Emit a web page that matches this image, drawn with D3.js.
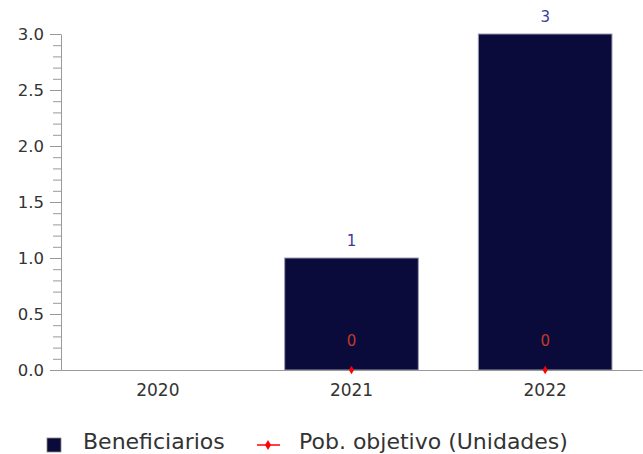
<!DOCTYPE html>
<html>
<head>
<meta charset="utf-8">
<script src="https://cdn.jsdelivr.net/npm/d3@7"></script>
<style>
  body { margin: 0; background: #fff; }
  text { font-family: "DejaVu Sans", sans-serif; }
</style>
</head>
<body>
<svg id="chart"></svg>
<script>
// chart values
const years = ["2020", "2021", "2022"];
const beneficiarios = [0, 1, 3];
const pobObjetivo = [null, 0, 0];
const yTicks = [0, 0.5, 1.0, 1.5, 2.0, 2.5, 3.0];
const legendLabels = ["Beneficiarios", "Pob. objetivo (Unidades)"];

const width = 643, height = 454;
const margin = {top: 34, right: 1, bottom: 84, left: 61};
const innerW = width - margin.left - margin.right;
const innerH = height - margin.top - margin.bottom;

const svg = d3.select("#chart").attr("width", width).attr("height", height);
const g = svg.append("g").attr("transform", `translate(${margin.left},${margin.top})`);

const x = d3.scaleBand().domain(years).range([0, innerW]).paddingInner(0.31).paddingOuter(0.155);
const y = d3.scaleLinear().domain([0, 3]).range([innerH, 0]);

// minor ticks
g.append("g")
    .call(d3.axisLeft(y).tickValues(d3.range(0, 3.01, 0.1)).tickSize(8).tickFormat(""))
    .call(a => a.select(".domain").remove())
    .selectAll("line").attr("stroke", "#999");

// y axis
const yAxis = g.append("g")
    .call(d3.axisLeft(y).tickValues(yTicks).tickSize(11).tickSizeOuter(0).tickFormat(d3.format(".1f")));
yAxis.select(".domain").attr("stroke", "#999");
yAxis.selectAll("line").attr("stroke", "#999");
yAxis.selectAll("text").attr("font-size", 16.5).attr("fill", "#333").attr("dx", "-3");

// bars
const barData = years.map((d, i) => ({year: d, v: beneficiarios[i]})).filter(d => d.v > 0);
g.selectAll("rect.bar")
    .data(barData)
    .enter().append("rect")
    .attr("class", "bar")
    .attr("x", d => x(d.year))
    .attr("y", d => y(d.v))
    .attr("width", x.bandwidth())
    .attr("height", d => innerH - y(d.v))
    .attr("fill", "#0b0b3b")
    .attr("stroke", "#9a9ab0")
    .attr("stroke-width", 1);

g.selectAll("text.vlab")
    .data(barData)
    .enter().append("text")
    .attr("class", "vlab")
    .attr("x", d => x(d.year) + x.bandwidth() / 2)
    .attr("y", d => y(d.v) - 12)
    .attr("text-anchor", "middle")
    .attr("font-size", 15)
    .attr("fill", "#3b3b9e")
    .text(d => d.v);

// x axis
const xAxis = g.append("g")
    .attr("transform", `translate(0,${innerH})`)
    .call(d3.axisBottom(x).tickSize(0).tickSizeOuter(0));
xAxis.select(".domain").attr("stroke", "#999");
xAxis.selectAll("text").attr("font-size", 17).attr("fill", "#333").attr("dy", "1.35em");

// red points
const pts = years.map((d, i) => ({year: d, v: pobObjetivo[i]})).filter(d => d.v !== null);
g.selectAll("path.pt")
    .data(pts)
    .enter().append("path")
    .attr("class", "pt")
    .attr("transform", d => `translate(${x(d.year) + x.bandwidth() / 2},${y(d.v)})`)
    .attr("d", d3.symbol(d3.symbolDiamond, 22))
    .attr("fill", "#ff0000");

g.selectAll("text.plab")
    .data(pts)
    .enter().append("text")
    .attr("class", "plab")
    .attr("x", d => x(d.year) + x.bandwidth() / 2)
    .attr("y", d => y(d.v) - 24)
    .attr("text-anchor", "middle")
    .attr("font-size", 15)
    .attr("fill", "#c0392b")
    .text(d => d.v);

// legend
const lg = svg.append("g").attr("transform", "translate(0,445)");
lg.append("rect").attr("x", 47).attr("y", -7).attr("width", 14).attr("height", 14)
    .attr("fill", "#0b0b3b").attr("stroke", "#888").attr("stroke-width", 0.8);
lg.append("text").attr("x", 83).attr("y", 4).attr("font-size", 22).attr("fill", "#333").text(legendLabels[0]);
lg.append("line").attr("x1", 257).attr("x2", 280).attr("y1", 0).attr("y2", 0)
    .attr("stroke", "#ff0000").attr("stroke-width", 1.5);
lg.append("path").attr("transform", "translate(268,0)")
    .attr("d", d3.symbol(d3.symbolDiamond, 30)).attr("fill", "#ff0000");
lg.append("text").attr("x", 299).attr("y", 4).attr("font-size", 22).attr("fill", "#333").text(legendLabels[1]);
</script>
</body>
</html>
